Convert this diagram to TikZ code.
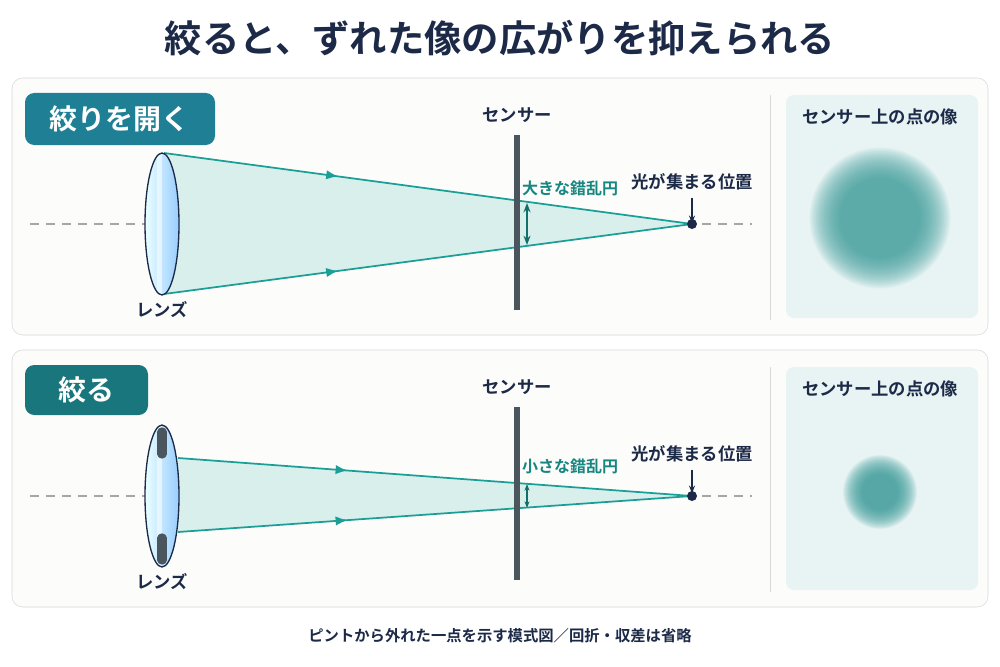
\documentclass[tikz,border=0pt]{standalone}
\usepackage{fontspec}
\setmainfont{Noto Sans CJK JP}[BoldFont={Noto Sans CJK JP Bold}]
\usetikzlibrary{arrows.meta,positioning}
\definecolor{navy}{HTML}{1C2A48}
\definecolor{ray}{HTML}{1A9E96}
\definecolor{cone}{HTML}{D8EFEC}
\definecolor{tagA}{HTML}{1E7F95}
\definecolor{tagB}{HTML}{18767C}
\definecolor{sensor}{HTML}{4A555E}
\definecolor{imgbox}{HTML}{E8F4F4}
\definecolor{blur}{HTML}{3A9C9A}
\definecolor{panel}{HTML}{FCFCFA}
\tikzset{
  lbl/.style={font=\bfseries\fontsize{13}{13}\selectfont, text=navy, inner sep=0.75pt},
  raylbl/.style={font=\bfseries\fontsize{12}{12}\selectfont, text=ray!85!black, inner sep=0.75pt},
  tag/.style={rounded corners=6pt, text=white, font=\bfseries\fontsize{21}{21}\selectfont, inner sep=0pt},
  rayline/.style={ray, line width=1.3pt},
  mid/.style={postaction={decorate}},
}
\usetikzlibrary{decorations.markings}
\begin{document}
\begin{tikzpicture}[x=0.75pt,y=0.75pt,yscale=-1,xscale=1]
\useasboundingbox (0,0) rectangle (1000,667);
\fill[white] (0,0) rectangle (1000,667);
% title
\node[font=\bfseries\fontsize{28}{28}\selectfont, text=navy] (title) at (500,38) {絞ると、ずれた像の広がりを抑えられる};
% two panels
\foreach \y/\ytop in {0/78, 272/350}{
  \draw[gray!30, fill=panel, rounded corners=8pt] (12,\ytop) rectangle (988,\ytop+257);
  \draw[gray!30] (770,95+\y) -- (770,320+\y);
  \fill[imgbox, rounded corners=6pt] (786,95+\y) rectangle (978,318+\y);
  \node[lbl] at (880,117+\y) {センサー上の点の像};
  \draw[gray!70, dashed, dash pattern=on 7pt off 5pt, line width=0.8pt] (30,224+\y) -- (752,224+\y);
}
% blurred spots
\foreach \i in {0,...,19}{
  \fill[blur, fill opacity=0.07] (880,218) circle ({40+1.6*\i});
  \fill[blur, fill opacity=0.08] (880,492) circle ({18+1.0*\i});
}
% tags
\fill[tagA, rounded corners=7pt] (25,93) rectangle (215,145);
\node[tag] (openTag) at (120,119) {絞りを開く};
\fill[tagB, rounded corners=7pt] (25,365) rectangle (148,415);
\node[tag] (stopTag) at (86,390) {絞る};

% ---- open aperture ----
\coordinate (aTop) at (164,153);
\coordinate (aBot) at (164,294);
\coordinate (aF) at (692,224);
\fill[cone] (aTop) -- (aF) -- (aBot) -- cycle;
\draw[rayline, mid, decoration={markings, mark=at position 0.33 with {\arrow{Latex[length=9pt,width=7pt]}}}] (aTop) -- (aF);
\draw[rayline, mid, decoration={markings, mark=at position 0.33 with {\arrow{Latex[length=9pt,width=7pt]}}}] (aBot) -- (aF);
\shade[left color=cyan!8, right color=cyan!50!blue!40] (162,224) ellipse (17 and 71);
\fill[white, opacity=0.55] (157,154) rectangle (162,294);
\draw[navy, line width=1pt] (162,224) ellipse (17 and 71);
\node[lbl] (lensA) at (162,310) {レンズ};
\draw[sensor, line width=4.5pt] (517,135) -- (517,310);
\node[lbl] (sensA) at (517,115) {センサー};
\fill[navy] (aF) circle (5);
\node[lbl] (focA) at (692,182) {光が集まる位置};
\draw[navy, line width=1pt, -{Stealth[length=6pt]}] (focA.south) ++(0,6) -- ++(0,26);
\node[raylbl] (cocA) at (570,188) {大きな錯乱円};
\coordinate (cA1) at (527,203);
\coordinate (cA2) at (527,245);
\draw[ray!70!black, line width=1.4pt, {Stealth[length=7pt]}-{Stealth[length=7pt]}] (cA1) -- (cA2);

% ---- stopped down ----
\coordinate (bTop) at (178,458);
\coordinate (bBot) at (178,532);
\coordinate (bF) at (692,496);
\fill[cone] (bTop) -- (bF) -- (bBot) -- cycle;
\draw[rayline, mid, decoration={markings, mark=at position 0.33 with {\arrow{Latex[length=9pt,width=7pt]}}}] (bTop) -- (bF);
\draw[rayline, mid, decoration={markings, mark=at position 0.33 with {\arrow{Latex[length=9pt,width=7pt]}}}] (bBot) -- (bF);
\shade[left color=cyan!8, right color=cyan!50!blue!40] (162,496) ellipse (17 and 71);
\fill[white, opacity=0.55] (157,426) rectangle (162,566);
\draw[sensor, line width=7pt, line cap=round] (162,432) -- (162,454);
\draw[sensor, line width=7pt, line cap=round] (162,538) -- (162,560);
\draw[navy, line width=1pt] (162,496) ellipse (17 and 71);
\node[lbl] (lensB) at (162,582) {レンズ};
\draw[sensor, line width=4.5pt] (517,407) -- (517,580);
\node[lbl] (sensB) at (517,387) {センサー};
\fill[navy] (bF) circle (5);
\node[lbl] (focB) at (692,454) {光が集まる位置};
\draw[navy, line width=1pt, -{Stealth[length=6pt]}] (focB.south) ++(0,6) -- ++(0,24);
\node[raylbl] (cocB) at (570,466) {小さな錯乱円};
\coordinate (cB1) at (527,484);
\coordinate (cB2) at (527,508);
\draw[ray!70!black, line width=1.4pt, {Stealth[length=5pt]}-{Stealth[length=5pt]}] (cB1) -- (cB2);

% footer
\node[font=\bfseries\fontsize{11.5}{11.5}\selectfont, text=navy] (note) at (500,636) {ピントから外れた一点を示す模式図／回折・収差は省略};
\end{tikzpicture}
\end{document}
